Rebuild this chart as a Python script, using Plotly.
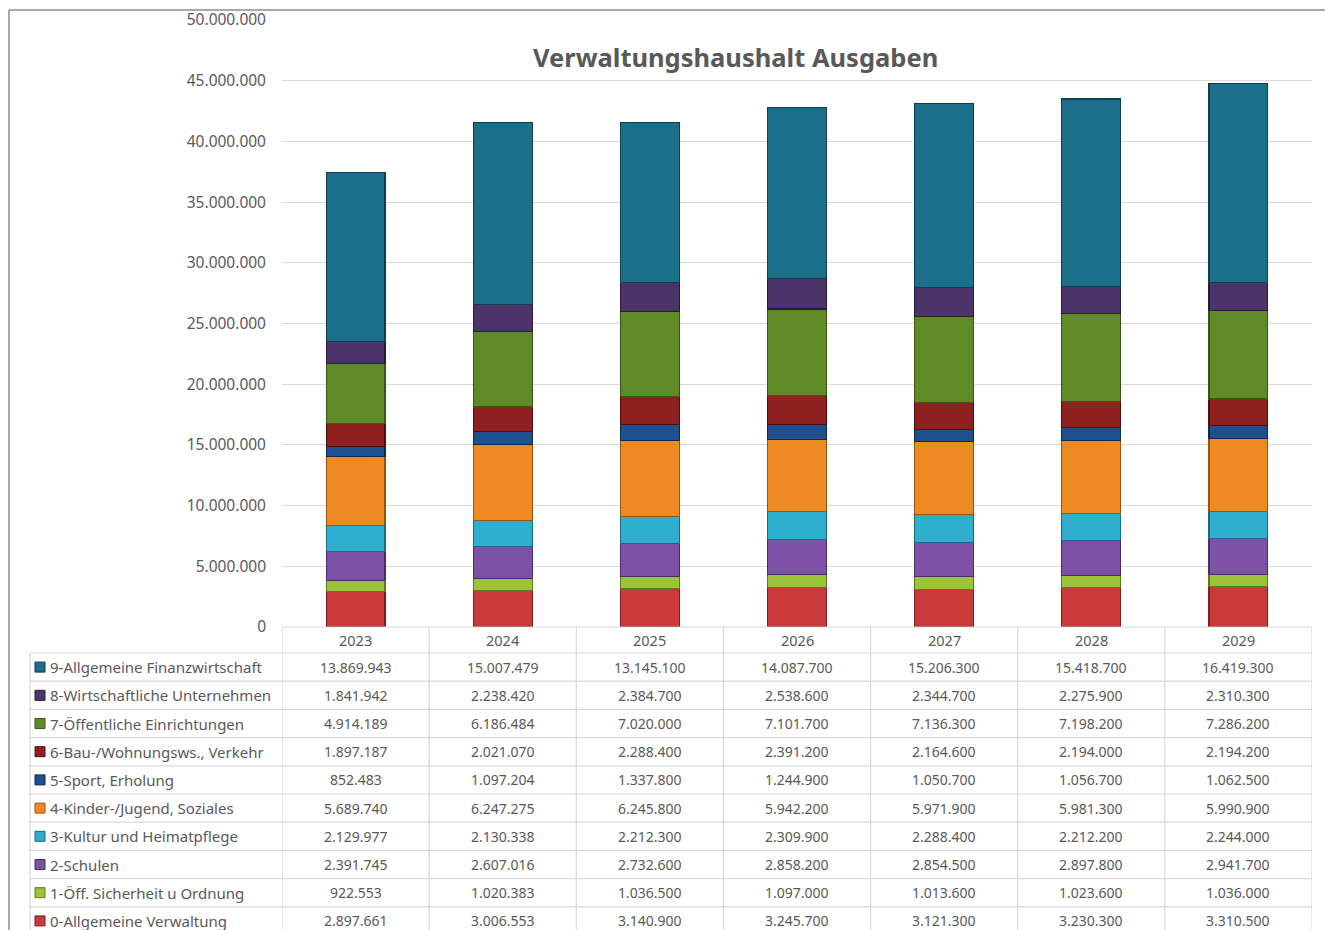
import plotly.graph_objects as go

years = ["2023", "2024", "2025", "2026", "2027", "2028", "2029"]

categories = [
    "0-Allgemeine Verwaltung",
    "1-Öff. Sicherheit u Ordnung",
    "2-Schulen",
    "3-Kultur und Heimatpflege",
    "4-Kinder-/Jugend, Soziales",
    "5-Sport, Erholung",
    "6-Bau-/Wohnungsws., Verkehr",
    "7-Öffentliche Einrichtungen",
    "8-Wirtschaftliche Unternehmen",
    "9-Allgemeine Finanzwirtschaft",
]

verwaltung = [2897661, 3006553, 3140900, 3245700, 3121300, 3230300, 3310500]
sicherheit = [922553, 1020383, 1036500, 1097000, 1013600, 1023600, 1036000]
schulen = [2391745, 2607016, 2732600, 2858200, 2854500, 2897800, 2941700]
kultur = [2129977, 2130338, 2212300, 2309900, 2288400, 2212200, 2244000]
soziales = [5689740, 6247275, 6245800, 5942200, 5971900, 5981300, 5990900]
sport = [852483, 1097204, 1337800, 1244900, 1050700, 1056700, 1062500]
bau = [1897187, 2021070, 2288400, 2391200, 2164600, 2194000, 2194200]
einrichtungen = [4914189, 6186484, 7020000, 7101700, 7136300, 7198200, 7286200]
unternehmen = [1841942, 2238420, 2384700, 2538600, 2344700, 2275900, 2310300]
finanz = [13869943, 15007479, 13145100, 14087700, 15206300, 15418700, 16419300]

series = [verwaltung, sicherheit, schulen, kultur, soziales, sport, bau, einrichtungen, unternehmen, finanz]

colors = ["#C93A3A", "#9DC33B", "#7C51A6", "#2FAECF", "#EE8A22",
          "#1F4F8F", "#8E2020", "#608A26", "#4D3468", "#1C6F88"]
edges = ["#7E1E1E", "#5E7A1E", "#4A2C66", "#1A6A80", "#9A5410",
         "#0F2A50", "#4F0E0E", "#3A5514", "#2A1A3A", "#0E3F50"]

FONT = "Noto Sans"
GREY = "#595959"
GRID = "#d9d9d9"

# page offset (body margin) and plot area in screen pixels
OFF = 8
L, R, T, B = 282, 1312, 20, 627
W, H = R - L, B - T


def px_x(x):
    return (x - L) / W


def px_y(y):
    return (B - y) / H


def fmt(v):
    return f"{v:,}".replace(",", ".")


fig = go.Figure()
for name, vals, c, e in zip(categories, series, colors, edges):
    fig.add_bar(x=years, y=vals, name=name, marker_color=c,
                marker_line=dict(color=e, width=1.2))

shapes = []
annotations = []

# title
annotations.append(dict(text="<b>Verwaltungshaushalt Ausgaben</b>", x=px_x(735), y=px_y(57),
                        xref="paper", yref="paper", xanchor="center", yanchor="middle",
                        showarrow=False, font=dict(family=FONT, size=25.5, color=GREY)))

# outer frame (top and left edges)
shapes.append(dict(type="line", xref="paper", yref="paper", x0=px_x(9), x1=px_x(1330),
                   y0=px_y(10), y1=px_y(10), line=dict(color="#8c8c8c", width=1.5)))
shapes.append(dict(type="line", xref="paper", yref="paper", x0=px_x(9), x1=px_x(9),
                   y0=px_y(10), y1=px_y(940), line=dict(color="#8c8c8c", width=1.5)))

# data table
row_h = 28.2
head_top, head_bot = 627, 653
n_rows = len(categories)
table_bot = head_bot + row_h * n_rows

shapes.append(dict(type="line", xref="x", yref="paper", x0=-0.5, x1=6.5,
                   y0=px_y(head_top), y1=px_y(head_top), line=dict(color=GRID, width=1.2)))
for i in range(n_rows + 1):
    yy = px_y(head_bot + row_h * i)
    shapes.append(dict(type="line", xref="paper", yref="paper", x0=px_x(30), x1=1,
                       y0=yy, y1=yy, line=dict(color=GRID, width=1.2)))
for k in range(len(years) + 1):
    shapes.append(dict(type="line", xref="x", yref="paper", x0=k - 0.5, x1=k - 0.5,
                       y0=px_y(head_top), y1=px_y(table_bot), line=dict(color=GRID, width=1.2)))
shapes.append(dict(type="line", xref="paper", yref="paper", x0=px_x(30), x1=px_x(30),
                   y0=px_y(head_bot), y1=px_y(table_bot), line=dict(color=GRID, width=1.2)))

for k, yr in enumerate(years):
    annotations.append(dict(text=yr, x=k, y=px_y((head_top + head_bot) / 2), xref="x", yref="paper",
                            xanchor="center", yanchor="middle", showarrow=False,
                            font=dict(family=FONT, size=14.5, color=GREY)))

# rows listed from top (9) to bottom (0)
for r, idx in enumerate(range(n_rows - 1, -1, -1)):
    yc = px_y(head_bot + row_h * (r + 0.5))
    shapes.append(dict(type="rect", xref="paper", yref="paper",
                       x0=px_x(35), x1=px_x(45), y0=yc - 5 / H, y1=yc + 5 / H,
                       fillcolor=colors[idx], line=dict(color=edges[idx], width=1)))
    annotations.append(dict(text=categories[idx], x=px_x(48), y=yc, xref="paper", yref="paper",
                            xanchor="left", yanchor="middle", showarrow=False,
                            font=dict(family=FONT, size=15, color=GREY)))
    for k, v in enumerate(series[idx]):
        annotations.append(dict(text=fmt(v), x=k, y=yc, xref="x", yref="paper",
                                xanchor="center", yanchor="middle", showarrow=False,
                                font=dict(family=FONT, size=14, color=GREY)))

fig.update_layout(
    barmode="stack",
    bargap=0.6,
    width=1333, height=930,
    margin=dict(l=L - OFF, r=1333 - (R - OFF), t=T - OFF, b=930 - (B - OFF)),
    paper_bgcolor="white", plot_bgcolor="white",
    showlegend=False,
    separators=",.",
    font=dict(family=FONT, color=GREY),
    shapes=shapes,
    annotations=annotations,
)
fig.update_xaxes(showticklabels=False, showgrid=False, showline=False, zeroline=False,
                 range=[-0.5, 6.5], automargin=False)
fig.update_yaxes(range=[0, 50000000], dtick=5000000, tickformat=",d", gridcolor=GRID,
                 gridwidth=1.2, zeroline=False, showline=False, ticks="", automargin=False,
                 ticklabelstandoff=15, tickfont=dict(family=FONT, size=15.5, color=GREY))

fig.write_html("out.html")
